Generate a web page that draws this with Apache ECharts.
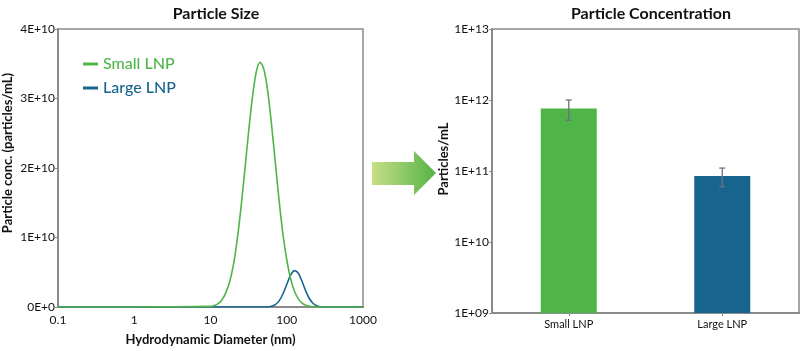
<!DOCTYPE html>
<html>
<head>
<meta charset="utf-8">
<script src="https://cdn.jsdelivr.net/npm/echarts@6/dist/echarts.min.js"></script>
<style>
html,body{margin:0;padding:0;background:#fff;}
#chart{width:800px;height:351px;}
</style>
</head>
<body>
<div id="chart"></div>
<script>
// ---- Data ----
// Left panel: size distribution (x = hydrodynamic diameter in nm, y = particles/mL)
const smallDiam = [0.1, 1, 10, 11.2, 12.6, 14.1, 15.8, 17.8, 20.0, 22.4, 25.1, 28.2, 31.6, 35.5, 39.8, 44.7, 50.1, 56.2, 63.1, 70.8, 79.4, 89.1, 100, 112.2, 125.9, 141.3, 158.5, 177.8, 199.5, 223.9, 251.2, 1000];
const smallConc = [0, 0, 0.009e10, 0.022e10, 0.049e10, 0.10e10, 0.20e10, 0.36e10, 0.61e10, 0.97e10, 1.43e10, 1.97e10, 2.52e10, 3.02e10, 3.38e10, 3.52e10, 3.42e10, 3.11e10, 2.63e10, 2.08e10, 1.53e10, 1.05e10, 0.68e10, 0.41e10, 0.23e10, 0.12e10, 0.057e10, 0.026e10, 0.011e10, 0.004e10, 0, 0];
const largeDiam = [0.1, 1, 10, 50.1, 56.2, 63.1, 70.8, 79.4, 89.1, 100, 112.2, 125.9, 141.3, 158.5, 177.8, 199.5, 223.9, 251.2, 281.8, 316.2, 1000];
const largeConc = [0, 0, 0, 0, 0.003e10, 0.010e10, 0.034e10, 0.088e10, 0.187e10, 0.324e10, 0.457e10, 0.524e10, 0.488e10, 0.370e10, 0.228e10, 0.115e10, 0.047e10, 0.0155e10, 0.004e10, 0.001e10, 0];
const seriesNames = ['Small LNP', 'Large LNP'];
// Right panel: particle concentration with error bars
const categories = ['Small LNP', 'Large LNP'];
const concValues = [7.6e11, 8.5e10];
const concErrors = [2.4e11, 2.5e10];
// Tick label values
const leftYTicks = [0, 1e10, 2e10, 3e10, 4e10];
const rightYTicks = [1e9, 1e10, 1e11, 1e12, 1e13];

// ---- Styling ----
const GREEN = '#4fb548';
const BLUE = '#17658f';
const AXIS = '#8a8a8a';
const FONT = 'Lato, "Noto Sans", sans-serif';

function sci(v, pad) {
  if (v === 0) return '0E+0';
  const e = Math.round(Math.log10(Math.abs(v)) * 1e6) / 1e6;
  const ex = Math.floor(e);
  const m = Math.round(v / Math.pow(10, ex) * 100) / 100;
  let es = String(ex);
  if (pad && es.length < 2) es = '0' + es;
  return m + 'E+' + es;
}

function pairs(xs, ys) { return xs.map((x, i) => [x, ys[i]]); }

const chart = echarts.init(document.getElementById('chart'), null, {renderer: 'canvas'});

const option = {
  animation: false,
  backgroundColor: '#fff',
  textStyle: {fontFamily: FONT},
  title: [
    {text: 'Particle Size', left: 211, top: 1, textAlign: 'center',
     textStyle: {fontFamily: FONT, fontSize: 16, fontWeight: 'bold', color: '#111'}},
    {text: 'Particle Concentration', left: 646, top: 1, textAlign: 'center',
     textStyle: {fontFamily: FONT, fontSize: 16, fontWeight: 'bold', color: '#111'}}
  ],
  legend: {
    data: [
      {name: seriesNames[0], textStyle: {color: GREEN}},
      {name: seriesNames[1], textStyle: {color: BLUE}}
    ],
    orient: 'vertical',
    left: 78, top: 51,
    itemGap: 8,
    itemWidth: 15, itemHeight: 3,
    icon: 'rect',
    textStyle: {fontFamily: FONT, fontSize: 16, fontWeight: 500}
  },
  grid: [
    {left: 58, top: 29, right: 437, bottom: 38, show: true, borderColor: AXIS, borderWidth: 1.5, containLabel: false},
    {left: 492, top: 29, right: 1, bottom: 38, show: true, borderColor: AXIS, borderWidth: 1.5, containLabel: false}
  ],
  xAxis: [
    {gridIndex: 0, type: 'log', logBase: 10, min: 0.1, max: 1000,
     axisLine: {lineStyle: {color: AXIS, width: 2}},
     axisTick: {show: false},
     splitLine: {show: false},
     minorTick: {show: false},
     axisLabel: {color: '#111', fontSize: 12, fontFamily: FONT, margin: 7,
                 formatter: v => String(Math.round(v * 10) / 10)},
     name: 'Hydrodynamic Diameter (nm)', nameLocation: 'middle', nameGap: 26,
     nameTextStyle: {fontFamily: FONT, fontSize: 13, fontWeight: 'bold', color: '#111'}},
    {gridIndex: 1, type: 'category', data: categories,
     axisLine: {lineStyle: {color: AXIS, width: 2}},
     axisTick: {show: true, alignWithLabel: true, length: 3, lineStyle: {color: AXIS}},
     axisLabel: {color: '#111', fontSize: 11, fontFamily: FONT, margin: 6}}
  ],
  yAxis: [
    {gridIndex: 0, type: 'value', min: leftYTicks[0], max: leftYTicks[leftYTicks.length - 1], interval: leftYTicks[1] - leftYTicks[0],
     axisLine: {show: true, lineStyle: {color: AXIS, width: 2}},
     axisTick: {show: true, length: 3, lineStyle: {color: AXIS}},
     splitLine: {show: false},
     axisLabel: {color: '#111', fontSize: 12, fontFamily: FONT, margin: 3, formatter: v => sci(v, false)},
     name: 'Particle conc. (particles/mL)', nameLocation: 'middle', nameGap: 44,
     nameTextStyle: {fontFamily: FONT, fontSize: 13, fontWeight: 'bold', color: '#111', padding: [0, 0, 0, 30]}},
    {gridIndex: 1, type: 'log', logBase: 10, min: rightYTicks[0], max: rightYTicks[rightYTicks.length - 1],
     axisLine: {show: true, lineStyle: {color: AXIS, width: 2}},
     axisTick: {show: true, length: 3, lineStyle: {color: AXIS}},
     splitLine: {show: false},
     minorTick: {show: false},
     axisLabel: {color: '#111', fontSize: 12, fontFamily: FONT, margin: 3, formatter: v => sci(v, true)},
     name: 'Particles/mL', nameLocation: 'middle', nameGap: 40,
     nameTextStyle: {fontFamily: FONT, fontSize: 13, fontWeight: 'bold', color: '#111', padding: [0, 0, 0, 24]}}
  ],
  series: [
    {name: seriesNames[1], type: 'line', xAxisIndex: 0, yAxisIndex: 0,
     data: pairs(largeDiam, largeConc), showSymbol: false, smooth: 0.3, z: 2,
     lineStyle: {color: BLUE, width: 1.6}, itemStyle: {color: BLUE}},
    {name: seriesNames[0], type: 'line', xAxisIndex: 0, yAxisIndex: 0,
     data: pairs(smallDiam, smallConc), showSymbol: false, smooth: 0.3, z: 3,
     lineStyle: {color: GREEN, width: 1.6}, itemStyle: {color: GREEN}},
    {type: 'bar', xAxisIndex: 1, yAxisIndex: 1, barWidth: 56,
     data: concValues.map((v, i) => ({value: v, itemStyle: {color: i === 0 ? GREEN : BLUE}}))},
    {type: 'custom', xAxisIndex: 1, yAxisIndex: 1, z: 5,
     data: concValues.map((v, i) => [i, v - concErrors[i], v + concErrors[i]]),
     renderItem: function (params, api) {
       const lo = api.coord([api.value(0), api.value(1)]);
       const hi = api.coord([api.value(0), api.value(2)]);
       const cw = 3;
       const st = {stroke: '#6b7280', lineWidth: 1.3};
       return {type: 'group', children: [
         {type: 'line', shape: {x1: hi[0], y1: hi[1], x2: lo[0], y2: lo[1]}, style: st},
         {type: 'line', shape: {x1: hi[0] - cw, y1: hi[1], x2: hi[0] + cw, y2: hi[1]}, style: st},
         {type: 'line', shape: {x1: lo[0] - cw, y1: lo[1], x2: lo[0] + cw, y2: lo[1]}, style: st}
       ]};
     }}
  ],
  graphic: [
    {type: 'polygon', z: 10,
     shape: {points: [[372, 162], [414, 162], [414, 151], [436, 173], [414, 195], [414, 185], [372, 185]]},
     style: {fill: new echarts.graphic.LinearGradient(0, 0, 1, 0, [
       {offset: 0, color: '#c6df86'}, {offset: 1, color: '#55b347'}])}}
  ]
};
chart.setOption(option);
</script>
</body>
</html>
